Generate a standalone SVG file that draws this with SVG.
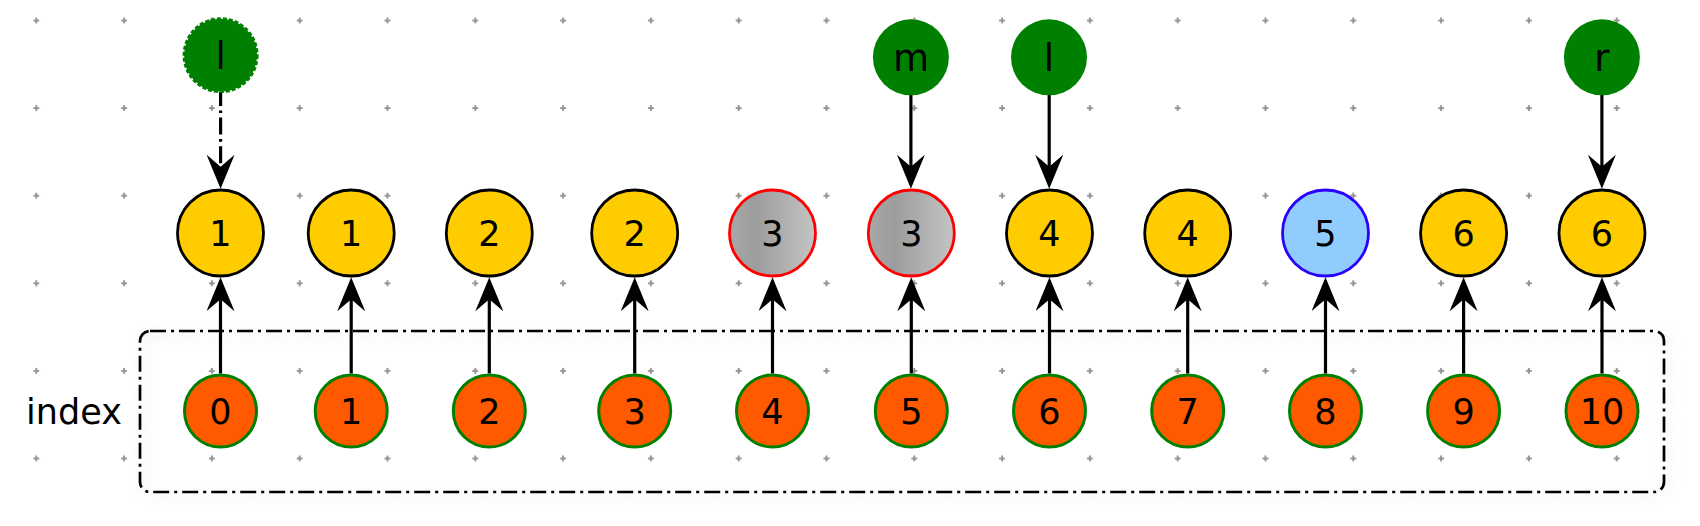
<svg xmlns="http://www.w3.org/2000/svg" width="1700" height="526" viewBox="0 0 1700 526">
  <defs>
    <style>
      text { font-family: "DejaVu Sans", "Liberation Sans", sans-serif; fill: #000; text-anchor: middle; }
      .num { font-size: 35px; }
      .let { font-size: 37px; }
      .yel { fill: #FFCC00; stroke: #000; stroke-width: 2.8; }
      .gry { fill: url(#grayGrad); stroke: #FF0000; stroke-width: 2.8; }
      .blu { fill: #91CCFF; stroke: #2A00FF; stroke-width: 2.8; }
      .org { fill: #FF5A00; stroke: #008000; stroke-width: 3; }
      .grn { fill: #008000; }
      .grn-dash { fill: #008000; stroke: #008000; stroke-width: 3; stroke-dasharray: 4 2; }
      .edge { stroke: #000; stroke-width: 3.2; fill: none; marker-end: url(#arrow); }
      .edge-dash { stroke-dasharray: 17 4.5 2.6 4.5; stroke-dashoffset: 3; }
      .box { fill: none; stroke: #000; stroke-width: 2.7; stroke-dasharray: 16 5 3 5; filter: url(#shadow); }
    </style>
    <linearGradient id="grayGrad" x1="0" y1="0" x2="1" y2="0">
      <stop offset="0" stop-color="#a8a8a8"/>
      <stop offset="0.3" stop-color="#9c9c9c"/>
      <stop offset="1" stop-color="#c4c4c4"/>
    </linearGradient>
    <marker id="arrow" viewBox="0 0 34 28" markerUnits="userSpaceOnUse" markerWidth="34" markerHeight="28" refX="14" refY="14" orient="auto">
      <path d="M0,0 L34,14 L0,28 L12,14 Z" fill="#000"/>
    </marker>
    <pattern id="grid" patternUnits="userSpaceOnUse" x="26.3" y="10.5" width="87.8" height="87.6">
      <path d="M7,10 h6 M10,7 v6" stroke="#8f8f8f" stroke-width="1.8" fill="none"/>
    </pattern>
    <filter id="shadow" x="-5%" y="-30%" width="110%" height="160%">
      <feDropShadow dx="3" dy="3" stdDeviation="7" flood-color="#000" flood-opacity="0.14"/>
    </filter>
  </defs>

  <rect id="background" x="0" y="0" width="1700" height="526" fill="#fff"/>
  <rect id="grid-dots" x="0" y="0" width="1700" height="526" fill="url(#grid)"/>

  <g id="index-box">
    <rect class="box" x="140" y="331" width="1524" height="161" rx="10" ry="10"/>
  </g>
  <g id="index-label">
    <text class="num" x="74" y="424">index</text>
  </g>

  <g id="connectors">
    <path class="edge edge-dash" d="M220.6,92 V168.7"/>
    <path class="edge" d="M910.9,95 V168.7"/>
    <path class="edge" d="M1049.2,95 V168.7"/>
    <path class="edge" d="M1601.9,95 V168.7"/>

    <path class="edge" d="M220.5,373.5 V297.3"/>
    <path class="edge" d="M351.2,373.5 V297.3"/>
    <path class="edge" d="M489.3,373.5 V297.3"/>
    <path class="edge" d="M634.7,373.5 V297.3"/>
    <path class="edge" d="M772.5,373.5 V297.3"/>
    <path class="edge" d="M911.3,373.5 V297.3"/>
    <path class="edge" d="M1049.5,373.5 V297.3"/>
    <path class="edge" d="M1187.7,373.5 V297.3"/>
    <path class="edge" d="M1325.5,373.5 V297.3"/>
    <path class="edge" d="M1463.6,373.5 V297.3"/>
    <path class="edge" d="M1602,373.5 V297.3"/>
  </g>

  <g id="ptr-l-old"><circle class="grn-dash" cx="220.6" cy="55.2" r="36.5"/><text class="let" x="220.6" y="69.3">l</text></g>
  <g id="ptr-m"><circle class="grn" cx="910.9" cy="57.3" r="38"/><text class="let" x="910.9" y="70.7">m</text></g>
  <g id="ptr-l"><circle class="grn" cx="1049" cy="57.3" r="38"/><text class="let" x="1049" y="70.7">l</text></g>
  <g id="ptr-r"><circle class="grn" cx="1601.9" cy="57.3" r="38"/><text class="let" x="1601.9" y="70.7">r</text></g>

  <g id="val-0"><circle class="yel" cx="220.5" cy="233" r="43"/><text class="num" x="220.5" y="245.8">1</text></g>
  <g id="val-1"><circle class="yel" cx="351.2" cy="233" r="43"/><text class="num" x="351.2" y="245.8">1</text></g>
  <g id="val-2"><circle class="yel" cx="489.3" cy="233" r="43"/><text class="num" x="489.3" y="245.8">2</text></g>
  <g id="val-3"><circle class="yel" cx="634.7" cy="233" r="43"/><text class="num" x="634.7" y="245.8">2</text></g>
  <g id="val-4"><circle class="gry" cx="772.5" cy="233" r="43"/><text class="num" x="772.5" y="245.8">3</text></g>
  <g id="val-5"><circle class="gry" cx="911.3" cy="233" r="43"/><text class="num" x="911.3" y="245.8">3</text></g>
  <g id="val-6"><circle class="yel" cx="1049.5" cy="233" r="43"/><text class="num" x="1049.5" y="245.8">4</text></g>
  <g id="val-7"><circle class="yel" cx="1187.7" cy="233" r="43"/><text class="num" x="1187.7" y="245.8">4</text></g>
  <g id="val-8"><circle class="blu" cx="1325.5" cy="233" r="43"/><text class="num" x="1325.5" y="245.8">5</text></g>
  <g id="val-9"><circle class="yel" cx="1463.6" cy="233" r="43"/><text class="num" x="1463.6" y="245.8">6</text></g>
  <g id="val-10"><circle class="yel" cx="1602" cy="233" r="43"/><text class="num" x="1602" y="245.8">6</text></g>

  <g id="idx-0"><circle class="org" cx="220.5" cy="411" r="36"/><text class="num" x="220.5" y="423.8">0</text></g>
  <g id="idx-1"><circle class="org" cx="351.2" cy="411" r="36"/><text class="num" x="351.2" y="423.8">1</text></g>
  <g id="idx-2"><circle class="org" cx="489.3" cy="411" r="36"/><text class="num" x="489.3" y="423.8">2</text></g>
  <g id="idx-3"><circle class="org" cx="634.7" cy="411" r="36"/><text class="num" x="634.7" y="423.8">3</text></g>
  <g id="idx-4"><circle class="org" cx="772.5" cy="411" r="36"/><text class="num" x="772.5" y="423.8">4</text></g>
  <g id="idx-5"><circle class="org" cx="911.3" cy="411" r="36"/><text class="num" x="911.3" y="423.8">5</text></g>
  <g id="idx-6"><circle class="org" cx="1049.5" cy="411" r="36"/><text class="num" x="1049.5" y="423.8">6</text></g>
  <g id="idx-7"><circle class="org" cx="1187.7" cy="411" r="36"/><text class="num" x="1187.7" y="423.8">7</text></g>
  <g id="idx-8"><circle class="org" cx="1325.5" cy="411" r="36"/><text class="num" x="1325.5" y="423.8">8</text></g>
  <g id="idx-9"><circle class="org" cx="1463.6" cy="411" r="36"/><text class="num" x="1463.6" y="423.8">9</text></g>
  <g id="idx-10"><circle class="org" cx="1602" cy="411" r="36"/><text class="num" x="1602" y="423.8">10</text></g>
</svg>
